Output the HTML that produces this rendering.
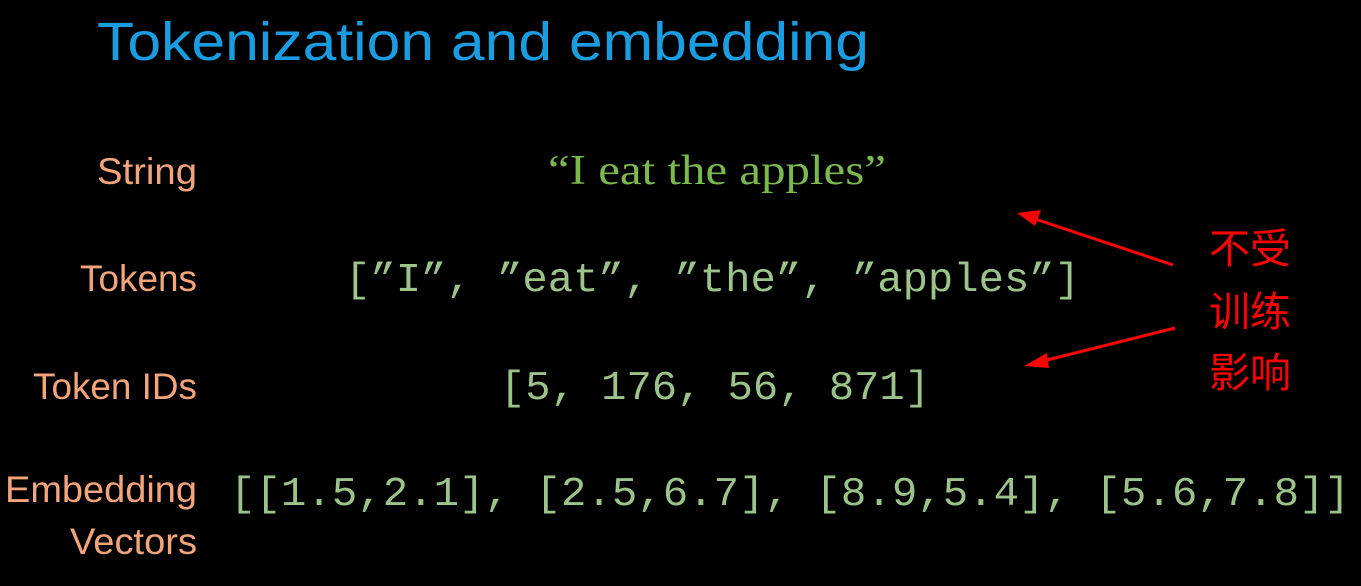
<!DOCTYPE html>
<html><head><meta charset="utf-8"><style>html,body{margin:0;padding:0;background:#000;}svg{display:block}</style></head>
<body>
<svg width="1361" height="586" viewBox="0 0 1361 586" xmlns="http://www.w3.org/2000/svg">
<rect width="1361" height="586" fill="#000"/>
<text x="97" y="60" font-family="Liberation Sans, sans-serif" font-size="54" fill="#1a9de0" textLength="772" lengthAdjust="spacingAndGlyphs">Tokenization and embedding</text>
<g font-family="Liberation Sans, sans-serif" font-size="37" fill="#f2a57a" lengthAdjust="spacingAndGlyphs">
<text x="97" y="184" textLength="100" lengthAdjust="spacingAndGlyphs">String</text>
<text x="80" y="291" textLength="117" lengthAdjust="spacingAndGlyphs">Tokens</text>
<text x="33" y="399" textLength="164" lengthAdjust="spacingAndGlyphs">Token IDs</text>
<text x="5" y="502" textLength="192" lengthAdjust="spacingAndGlyphs">Embedding</text>
<text x="70" y="554" textLength="127" lengthAdjust="spacingAndGlyphs">Vectors</text>
</g>
<text x="548" y="184" font-family="Liberation Serif, serif" font-size="42" fill="#7bb84e" textLength="338" lengthAdjust="spacingAndGlyphs">“I eat the apples”</text>
<g font-family="Liberation Mono, monospace" font-size="41" fill="#9cc48a">
<text x="345" y="291" textLength="735" lengthAdjust="spacingAndGlyphs">[”I”, ”eat”, ”the”, ”apples”]</text>
<text x="500" y="399" textLength="430" lengthAdjust="spacingAndGlyphs">[5, 176, 56, 871]</text>
<text x="230" y="505" textLength="1120" lengthAdjust="spacingAndGlyphs">[[1.5,2.1], [2.5,6.7], [8.9,5.4], [5.6,7.8]]</text>
</g>
<g stroke="#ff0000" stroke-width="3" fill="#ff0000">
<line x1="1173" y1="265" x2="1035" y2="219"/>
<polygon points="1017,213 1041,210 1035,226" stroke="none"/>
<line x1="1175" y1="328" x2="1043" y2="361"/>
<polygon points="1024,366 1047,353 1049,368" stroke="none"/>
</g>
<g font-family="Noto Sans CJK SC, WenQuanYi Zen Hei, sans-serif" font-size="41" fill="#ff0000">
<text x="1209" y="263">不受</text>
<text x="1209" y="326">训练</text>
<text x="1209" y="387">影响</text>
</g>
</svg>
</body></html>
